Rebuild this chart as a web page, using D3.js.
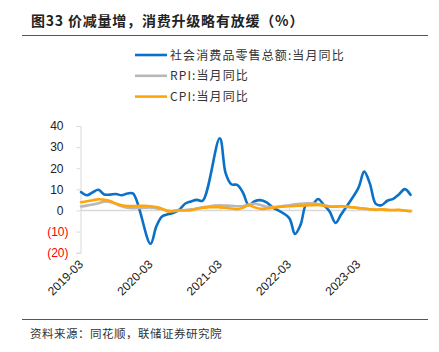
<!DOCTYPE html>
<html>
<head>
<meta charset="utf-8">
<script src="https://cdn.jsdelivr.net/npm/d3@7"></script>
<style>
  body { margin: 0; background: #fff; }
  text { font-family: "Liberation Sans", Arial, sans-serif; }
  .cjk { font-family: "Noto Sans CJK SC", sans-serif; }
</style>
</head>
<body>
<div id="container"></div>
<script>
const WIDTH = 439;
const HEIGHT = 352;

// Data: monthly, 2019-03 .. 2023-12 (retail sales has no Jan/Feb values)
const startMonth = '2019-03';
const retail = [
  8.7, 7.2, 8.6, 9.8, 7.6, 7.5, 7.8, 7.2, 8.0, 8.0,
  null, null, -15.8, -7.5, -2.8, -1.8, -1.1, 0.5, 3.3, 4.3, 5.0, 4.6,
  null, null, 34.2, 17.7, 12.4, 12.1, 8.5, 2.5, 4.4, 4.9, 3.9, 1.7,
  null, null, -3.5, -11.1, -6.7, 3.1, 2.7, 5.4, 2.5, -0.5, -5.9, -1.8,
  null, null, 10.6, 18.4, 12.7, 3.1, 2.5, 4.6, 5.5, 7.6, 10.1, 7.4
];
const rpi = [
  1.9, 2.3, 2.8, 3.4, 4.2, 4.0, 3.0, 2.0, 1.3, 1.1,
  1.2, 1.3, 1.4, 1.0, 0.6, 0.0, -0.3, -0.1, 0.2, 0.5, 1.0, 1.5,
  1.9, 2.3, 2.4, 2.3, 2.2, 2.0, 2.0, 2.8, 3.2, 2.6, 1.8, 1.6,
  1.8, 2.2, 2.5, 2.9, 3.2, 3.4, 3.4, 3.1, 2.5, 2.0, 1.9, 2.0,
  1.7, 1.4, 1.1, 0.8, 0.5, 0.3, 0.4, 0.2, 0.1, 0.2, -0.1, -0.4
];
const cpi = [
  3.9, 4.4, 4.8, 5.3, 5.1, 4.5, 3.3, 2.5, 2.1, 2.1,
  2.2, 2.2, 2.0, 1.6, 0.8, -0.5, -0.2, 0.2, 0.0, 0.1, 0.8, 1.3,
  1.5, 1.6, 1.5, 1.3, 0.9, 0.6, 1.3, 2.5, 1.5, 0.8, 0.9, 1.3,
  1.6, 1.8, 2.0, 2.1, 2.3, 2.4, 2.5, 2.6, 2.2, 1.8, 1.8, 2.0,
  1.8, 1.5, 1.2, 0.9, 0.6, 0.4, 0.5, 0.3, 0.2, 0.3, 0.0, -0.3
];
const seriesNames = ['社会消费品零售总额:当月同比', 'RPI:当月同比', 'CPI:当月同比'];
const seriesColors = ['#0a70c8', '#b8b8b8', '#ffa50a'];
const xTickLabels = ['2019-03', '2020-03', '2021-03', '2022-03', '2023-03'];
const yTicks = [-20, -10, 0, 10, 20, 30, 40];

const parseMonth = d3.utcParse('%Y-%m');
const months = d3.utcMonth.range(parseMonth(startMonth), d3.utcMonth.offset(parseMonth(startMonth), retail.length));

const svg = d3.select('#container').append('svg')
    .attr('width', WIDTH)
    .attr('height', HEIGHT);

// Title and rules
svg.append('text').attr('class', 'cjk')
    .attr('x', 31).attr('y', 26)
    .attr('font-size', 14).attr('font-weight', 'bold').attr('fill', '#222')
    .attr('letter-spacing', 0.8)
    .text('图33 价减量增，消费升级略有放缓（%）');
svg.append('line').attr('x1', 22).attr('x2', 428).attr('y1', 35.5).attr('y2', 35.5)
    .attr('stroke', '#555').attr('stroke-width', 1);
svg.append('line').attr('x1', 22).attr('x2', 428).attr('y1', 319.5).attr('y2', 319.5)
    .attr('stroke', '#555').attr('stroke-width', 1);
svg.append('text').attr('class', 'cjk')
    .attr('x', 30).attr('y', 338)
    .attr('font-size', 11.5).attr('fill', '#333')
    .attr('letter-spacing', 0.5)
    .text('资料来源：同花顺，联储证券研究院');

// Scales
const x = d3.scaleUtc()
    .domain([months[0], months[months.length - 1]])
    .range([81, 410.5]);
const y = d3.scaleLinear().domain([-20, 40]).range([252.7, 126]);

// Y axis
const yAxis = svg.append('g')
    .attr('transform', 'translate(80.5,0)')
    .call(d3.axisLeft(y).tickValues(yTicks).tickSize(4).tickPadding(0)
        .tickFormat(d => d < 0 ? '(' + Math.abs(d) + ')' : d));
yAxis.select('.domain').attr('stroke', '#d9d9d9');
yAxis.selectAll('.tick line').attr('stroke', '#d9d9d9');
yAxis.selectAll('.tick text')
    .attr('font-size', 12)
    .attr('font-family', '"Liberation Sans", Arial, sans-serif')
    .attr('fill', d => d < 0 ? '#ff0000' : '#222')
    .attr('x', d => d < 0 ? -12 : -17);

// Zero line with year ticks
svg.append('line')
    .attr('x1', 80.5).attr('x2', 413)
    .attr('y1', y(0)).attr('y2', y(0))
    .attr('stroke', '#d9d9d9').attr('stroke-width', 1.5);
const xAxis = svg.append('g')
    .attr('transform', 'translate(0,' + y(0) + ')')
    .call(d3.axisTop(x).tickValues(xTickLabels.map(parseMonth)).tickSize(3).tickFormat(''));
xAxis.select('.domain').remove();
xAxis.selectAll('.tick line').attr('stroke', '#d9d9d9');

// X labels, rotated, placed low
svg.append('g').selectAll('text')
    .data(xTickLabels)
    .join('text')
    .attr('transform', d => 'translate(' + (x(parseMonth(d)) + 3) + ',265) rotate(-45)')
    .attr('text-anchor', 'end')
    .attr('font-size', 12)
    .attr('fill', '#222')
    .text(d => d);

// Lines
const line = d3.line()
    .x(d => x(d.date))
    .y(d => y(d.value))
    .curve(d3.curveCatmullRom.alpha(0.5));
[retail, rpi, cpi].forEach((vals, i) => {
  const pts = vals.map((v, j) => ({ date: months[j], value: v })).filter(d => d.value !== null);
  svg.append('path')
      .datum(pts)
      .attr('fill', 'none')
      .attr('stroke', seriesColors[i])
      .attr('stroke-width', 2.6)
      .attr('stroke-linejoin', 'round')
      .attr('stroke-linecap', 'round')
      .attr('d', line);
});

// Legend
const legend = svg.append('g').selectAll('g')
    .data(seriesNames)
    .join('g')
    .attr('transform', (d, i) => 'translate(135,' + (55 + i * 20.8) + ')');
legend.append('line')
    .attr('x1', 0).attr('x2', 32)
    .attr('stroke', (d, i) => seriesColors[i])
    .attr('stroke-width', 2.6);
legend.append('text').attr('class', 'cjk')
    .attr('x', 35).attr('y', 4.5)
    .attr('font-size', 12).attr('fill', '#333')
    .attr('letter-spacing', 1.1)
    .text(d => d);
</script>
</body>
</html>
